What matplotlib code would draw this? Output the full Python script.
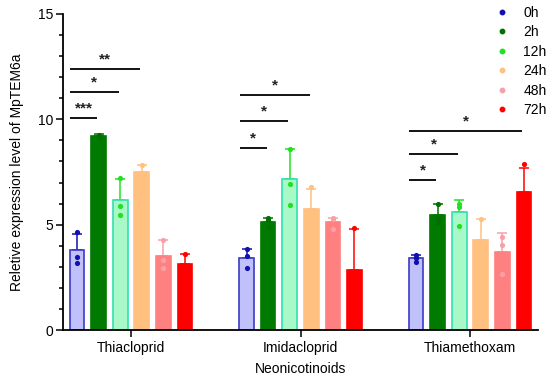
import matplotlib
matplotlib.use("Agg")
import matplotlib.pyplot as plt
from matplotlib.lines import Line2D
from matplotlib.ticker import MultipleLocator
import numpy as np

plt.rcParams['font.family'] = ['Liberation Sans', 'DejaVu Sans']

groups = ["Thiacloprid", "Imidacloprid", "Thiamethoxam"]
times = ["0h", "2h", "12h", "24h", "48h", "72h"]

means = {
    "Thiacloprid":  [3.78, 9.22, 6.18, 7.48, 3.50, 3.13],
    "Imidacloprid": [3.42, 5.13, 7.15, 5.75, 5.13, 2.83],
    "Thiamethoxam": [3.40, 5.46, 5.60, 4.29, 3.71, 6.55],
}
sds = {
    "Thiacloprid":  [0.77, 0.09, 0.97, 0.34, 0.75, 0.49],
    "Imidacloprid": [0.44, 0.19, 1.42, 0.92, 0.20, 1.98],
    "Thiamethoxam": [0.15, 0.51, 0.56, 0.98, 0.89, 1.12],
}
points = {
    "Thiacloprid":  [[4.65, 3.45, 3.20], [9.28, 9.22, 9.16], [7.22, 5.87, 5.46],
                     [7.82, 7.40, 7.22], [4.25, 3.30, 2.95], [3.62, 3.00, 2.78]],
    "Imidacloprid": [[3.86, 3.52, 2.92], [5.32, 5.20, 4.88], [8.60, 6.92, 5.94],
                     [6.79, 5.40, 5.10], [5.33, 5.27, 4.80], [4.86, 2.00, 1.65]],
    "Thiamethoxam": [[3.58, 3.40, 3.24], [5.97, 5.30, 5.10], [6.00, 5.85, 4.94],
                     [5.27, 4.00, 3.60], [4.41, 4.05, 2.67], [7.87, 6.20, 5.60]],
}
# significance comparisons: (group index, target bar index, line height, label)
comparisons = [
    (0, 1, 10.06, "***"), (0, 2, 11.30, "*"), (0, 3, 12.40, "**"),
    (1, 1, 8.65, "*"), (1, 2, 9.92, "*"), (1, 3, 11.15, "*"),
    (2, 1, 7.13, "*"), (2, 2, 8.37, "*"), (2, 5, 9.46, "*"),
]

bar_fill = ["#c0c0fa", "#007a00", "#a8f8c8", "#ffc080", "#ff8080", "#ff0000"]
bar_edge = ["#3b3bc4", "#007a00", "#30e0b0", "#ffc080", "#ff8080", "#ff0000"]
pt_color = ["#1010b0", "#007000", "#22e022", "#ffc080", "#f8a0a8", "#ff0000"]

fig = plt.figure(figsize=(5.5, 3.76), dpi=100)
ax = fig.add_axes([63/550, 46/376, 475/550, 316/376])

spacing = 0.127
width = 0.086
gx = np.arange(len(groups))
for gi, g in enumerate(groups):
    for ti in range(len(times)):
        x = gx[gi] + (ti - 2.5) * spacing
        m = means[g][ti]
        s = sds[g][ti]
        ax.errorbar(x, m, yerr=[[0], [s]], fmt='none', ecolor=pt_color[ti],
                    elinewidth=1.1, capsize=3.5, capthick=1.1, zorder=1)
        ax.bar(x, m, width=width, color=bar_fill[ti], edgecolor=bar_edge[ti],
               linewidth=1.2, zorder=2)
        ax.scatter([x] * len(points[g][ti]), points[g][ti], s=14,
                   color=pt_color[ti], zorder=3, linewidths=0)

for gi, tb, y, lab in comparisons:
    x0 = gx[gi] + (0 - 2.5) * spacing - 0.04
    x1 = gx[gi] + (tb - 2.5) * spacing - 0.01
    ax.plot([x0, x1], [y, y], color="black", lw=1.3, solid_capstyle='butt',
            clip_on=False)
    ax.text((x0 + x1) / 2, y + 0.12, lab, ha='center', va='bottom',
            fontsize=11, fontweight='bold', color='#222222')

ax.set_xlim(-0.401, 2.401)
ax.set_ylim(0, 15)
ax.set_xticks(gx)
ax.set_xticklabels(groups, fontsize=10)
ax.yaxis.set_major_locator(MultipleLocator(5))
ax.yaxis.set_minor_locator(MultipleLocator(1))
ax.tick_params(axis='y', labelsize=10, width=1.1, length=5, pad=2)
ax.tick_params(axis='y', which='minor', width=1.1, length=3)
ax.tick_params(axis='x', labelsize=10, width=1.1, length=5, pad=3)
for sp in ["top", "right"]:
    ax.spines[sp].set_visible(False)
for sp in ["left", "bottom"]:
    ax.spines[sp].set_linewidth(1.3)

ax.set_xlabel("Neonicotinoids", fontsize=10, labelpad=5)
ax.set_ylabel("Reletive expression level of MpTEM6a", fontsize=10, labelpad=10)

handles = [Line2D([], [], marker='o', linestyle='none', color=c, markersize=3.2)
           for c in pt_color]
ax.legend(handles, times, loc='upper left', bbox_to_anchor=(486/550, 1.0),
          bbox_transform=fig.transFigure, frameon=False, fontsize=10,
          handletextpad=0.8, labelspacing=0.4, handlelength=1.5, borderaxespad=0)

fig.savefig("out.png", dpi=100)
